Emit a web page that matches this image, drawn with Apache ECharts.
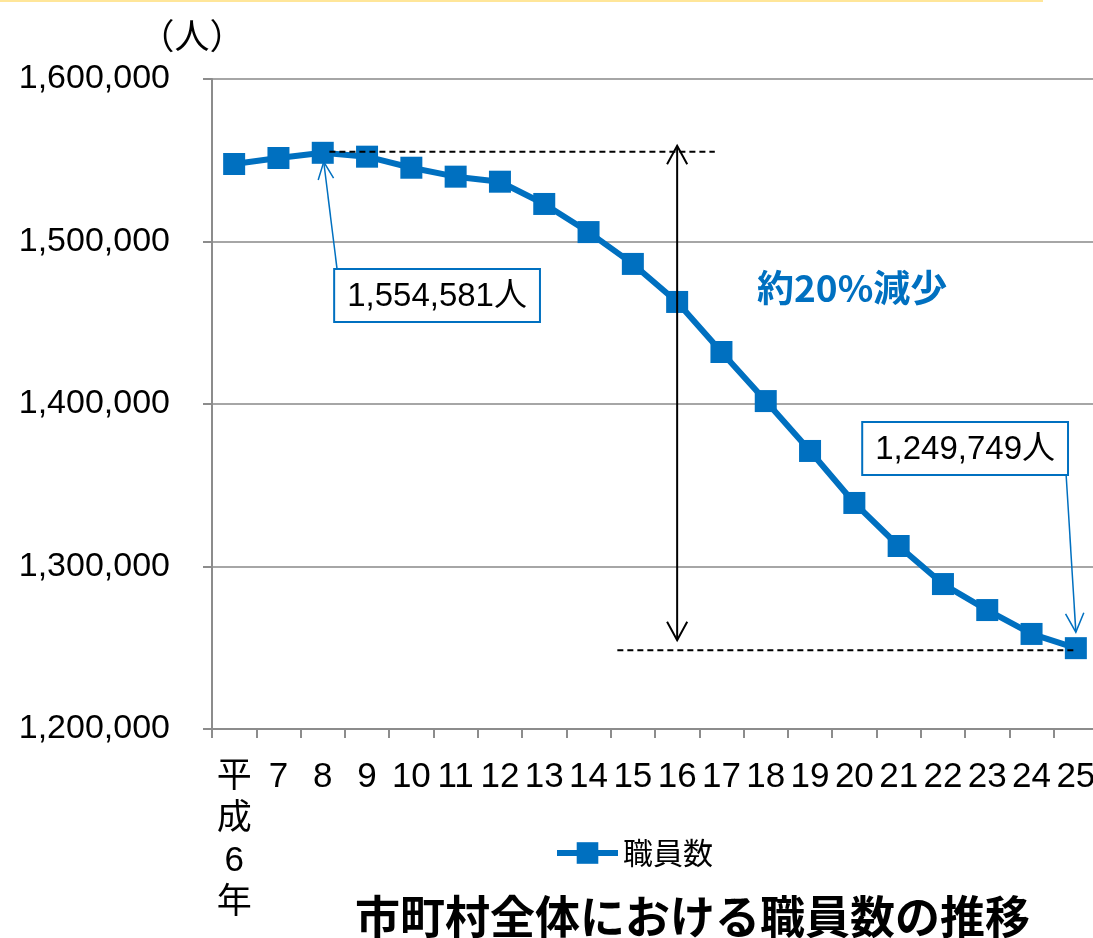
<!DOCTYPE html>
<html>
<head>
<meta charset="utf-8">
<script src="https://cdn.jsdelivr.net/npm/echarts@6/dist/echarts.min.js"></script>
<style>
  html, body { margin: 0; padding: 0; background: #fff; }
  #main { width: 1093px; height: 938px; }
</style>
</head>
<body>
<div id="main"></div>
<script>
// 平成6年〜25年
const years = ['平\n成\n6\n年', '7', '8', '9', '10', '11', '12', '13', '14', '15', '16', '17', '18', '19', '20', '21', '22', '23', '24', '25'];
const staff = [1547700, 1551400, 1554581, 1552200, 1545400, 1539900, 1536800, 1523100, 1505800, 1486200, 1462800, 1432000, 1401800, 1371100, 1339100, 1312600, 1289200, 1273200, 1258500, 1249749];
const yMin = 1200000, yMax = 1600000, yStep = 100000;

// annotation anchors (category index, value)
const peakIdx = 2, lastIdx = 19;
const topGuide = [2.15, 10.85];
const bottomGuide = [8.65, 19];
const dropArrowIdx = 10;
const dropLabel = '約20%減少';
const dropLabelAt = [13.95, 1471400];
const peakLabel = '1,554,581人';
const peakBoxAt = [2.28, 1482500];
const lastLabel = '1,249,749人';
const lastBoxAt = [14.2, 1388300];

const blue = '#0070C0';
const cjk = "'Noto Sans CJK JP', sans-serif";
const latin = "'Liberation Sans', Arial, 'Noto Sans CJK JP', sans-serif";
const narrow = "'Liberation Sans Narrow', 'Arial Narrow', 'Liberation Sans', 'Noto Sans CJK JP', sans-serif";

const chart = echarts.init(document.getElementById('main'));

const option = {
  animation: false,
  title: {
    text: '市町村全体における職員数の推移',
    left: 355,
    top: 894,
    padding: 0,
    textStyle: { fontSize: 45, fontWeight: 'bold', color: '#000', fontFamily: cjk }
  },
  legend: {
    left: 549,
    top: 833,
    itemWidth: 61,
    itemHeight: 27,
    itemGap: 0,
    lineStyle: { width: 6 },
    textStyle: { fontSize: 30, color: '#000', fontFamily: cjk, padding: [0, 0, 0, 0] },
    data: ['職員数']
  },
  grid: {
    left: 212,
    top: 79,
    bottom: 209,
    width: 886,
    containLabel: false,
    outerBoundsMode: 'none'
  },
  xAxis: {
    type: 'category',
    data: years,
    boundaryGap: true,
    axisLine: { lineStyle: { color: '#8c8c8c', width: 2 } },
    axisTick: { show: true, length: 9, lineStyle: { color: '#8c8c8c', width: 2 } },
    axisLabel: {
      interval: 0,
      margin: 27,
      color: '#000',
      fontSize: 35,
      lineHeight: 42,
      verticalAlign: 'top',
      fontFamily: narrow
    }
  },
  yAxis: {
    type: 'value',
    min: yMin,
    max: yMax,
    interval: yStep,
    axisLine: { show: true, lineStyle: { color: '#8c8c8c', width: 2 } },
    axisTick: { show: true, length: 9, lineStyle: { color: '#8c8c8c', width: 2 } },
    splitLine: { show: true, lineStyle: { color: '#a6a6a6', width: 2 } },
    axisLabel: {
      margin: 42,
      color: '#000',
      fontSize: 34,
      fontFamily: latin,
      formatter: (v) => v.toLocaleString('en-US')
    }
  },
  series: [{
    name: '職員数',
    type: 'line',
    data: staff,
    symbol: 'rect',
    symbolSize: 22,
    lineStyle: { color: blue, width: 6 },
    itemStyle: { color: blue },
    z: 3
  }]
};
chart.setOption(option);

// pixel helpers (category axis rounds fractional indexes, so interpolate)
const px = (i, v) => {
  const a = chart.convertToPixel({ gridIndex: 0 }, [0, v]);
  const b = chart.convertToPixel({ gridIndex: 0 }, [1, v]);
  return [a[0] + i * (b[0] - a[0]), a[1]];
};
const arrowHead = (tip, from, len, ang) => {
  const dx = from[0] - tip[0], dy = from[1] - tip[1];
  const base = Math.atan2(dy, dx);
  const p1 = [tip[0] + len * Math.cos(base + ang), tip[1] + len * Math.sin(base + ang)];
  const p2 = [tip[0] + len * Math.cos(base - ang), tip[1] + len * Math.sin(base - ang)];
  return [p1, tip, p2];
};

const peakY = px(0, staff[peakIdx])[1];
const lastY = px(0, staff[lastIdx])[1];
const arrowX = px(dropArrowIdx, 0)[0];
const arrowTop = [arrowX, peakY - 7];
const arrowBottom = [arrowX, lastY - 8];

const peakPt = px(peakIdx, staff[peakIdx]);
const lastPt = px(lastIdx, staff[lastIdx]);
const peakBox = px(peakBoxAt[0], peakBoxAt[1]);
const lastBox = px(lastBoxAt[0], lastBoxAt[1]);
const boxStyle = {
  fontSize: 33, fontFamily: latin, fill: '#000',
  backgroundColor: '#fff', borderColor: blue, borderWidth: 2,
  padding: [10, 12, 8, 12]
};
const peakTip = [peakPt[0] + 1, peakPt[1] + 9];
const peakFrom = [peakBox[0] + 2, peakBox[1]];
const lastTip = [lastPt[0], lastPt[1] - 16];
const lastFrom = [lastBox[0] + 203, lastBox[1] + 53];
const dropAt = px(dropLabelAt[0], dropLabelAt[1]);

const dashed = { stroke: '#000', lineWidth: 2, lineDash: [6, 4] };
const solid = { stroke: '#000', lineWidth: 2, fill: null };
const thinBlue = { stroke: blue, lineWidth: 1.5, fill: null };

chart.setOption({
  graphic: [
    { type: 'line', shape: { x1: 0, y1: 1, x2: 1043, y2: 1 }, style: { stroke: '#ffe699', lineWidth: 2 } },
    { type: 'text', x: 192, y: 36, style: { text: '（人）', fontSize: 35, fontFamily: cjk, fill: '#000', align: 'center', verticalAlign: 'middle' } },
    { type: 'line', z: 10, shape: { x1: px(topGuide[0], 0)[0], y1: peakY - 1, x2: px(topGuide[1], 0)[0], y2: peakY - 1 }, style: dashed },
    { type: 'line', z: 10, shape: { x1: px(bottomGuide[0], 0)[0], y1: lastY + 2, x2: px(bottomGuide[1], 0)[0], y2: lastY + 2 }, style: dashed },
    { type: 'line', z: 10, shape: { x1: arrowTop[0], y1: arrowTop[1], x2: arrowBottom[0], y2: arrowBottom[1] }, style: solid },
    { type: 'polyline', z: 10, shape: { points: arrowHead(arrowTop, arrowBottom, 21, 0.5) }, style: solid },
    { type: 'polyline', z: 10, shape: { points: arrowHead(arrowBottom, arrowTop, 21, 0.5) }, style: solid },
    { type: 'text', z: 10, x: dropAt[0], y: dropAt[1], style: { text: dropLabel, fontSize: 37, fontWeight: 'bold', fontFamily: cjk, fill: blue, align: 'center', verticalAlign: 'middle' } },
    { type: 'line', z: 10, shape: { x1: peakFrom[0], y1: peakFrom[1], x2: peakTip[0], y2: peakTip[1] }, style: thinBlue },
    { type: 'polyline', z: 10, shape: { points: arrowHead(peakTip, peakFrom, 19, 0.42) }, style: thinBlue },
    { type: 'text', z: 11, x: peakBox[0], y: peakBox[1], style: Object.assign({ text: peakLabel }, boxStyle) },
    { type: 'line', z: 10, shape: { x1: lastFrom[0], y1: lastFrom[1], x2: lastTip[0], y2: lastTip[1] }, style: thinBlue },
    { type: 'polyline', z: 10, shape: { points: arrowHead(lastTip, lastFrom, 21, 0.45) }, style: thinBlue },
    { type: 'text', z: 11, x: lastBox[0], y: lastBox[1], style: Object.assign({ text: lastLabel }, boxStyle) }
  ]
});
</script>
</body>
</html>
